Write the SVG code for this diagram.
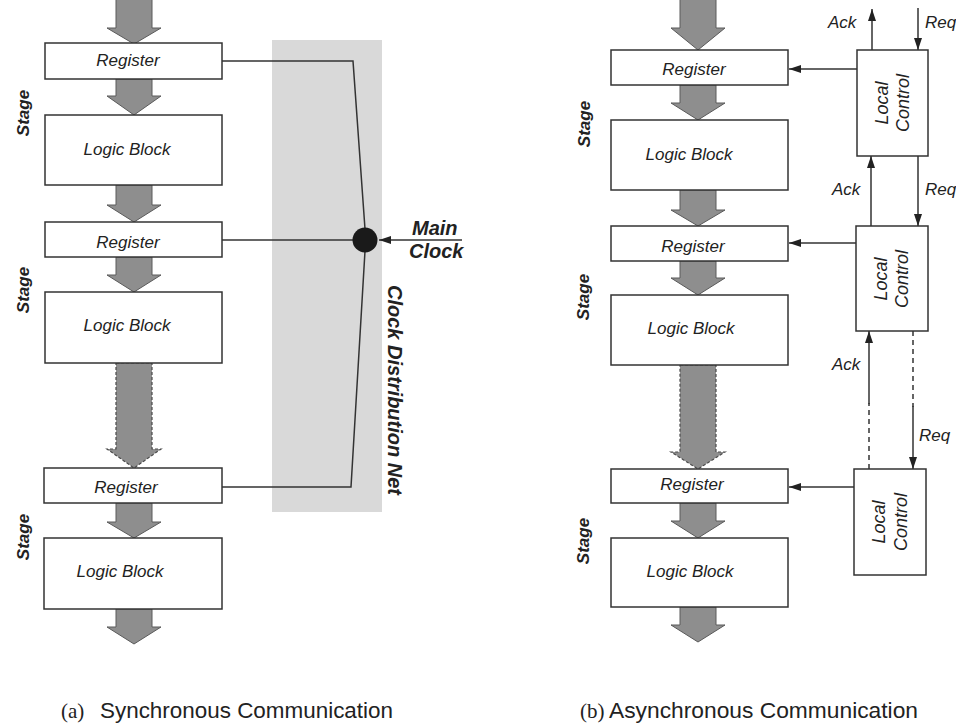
<svg xmlns="http://www.w3.org/2000/svg" width="956" height="727" viewBox="0 0 956 727">
  <style>
    .box { fill: #ffffff; stroke: #333333; stroke-width: 1.5; }
    .flow { fill: #8e8e8e; stroke: #5a5a5a; stroke-width: 1; }
    .flow-gap { fill: #8e8e8e; stroke: #4a4a4a; stroke-width: 1.2; stroke-dasharray: 3 2; }
    .wire { fill: none; stroke: #333333; stroke-width: 1.5; }
    .dash { stroke-dasharray: 5 4; }
    .lbl { font-family: "Liberation Sans", Arial, sans-serif; font-style: italic; font-size: 17px; fill: #222222; }
    .stage { font-family: "Liberation Sans", Arial, sans-serif; font-style: italic; font-weight: bold; font-size: 17px; fill: #222222; }
    .big { font-family: "Liberation Sans", Arial, sans-serif; font-style: italic; font-weight: bold; font-size: 20px; fill: #222222; }
    .lc { font-family: "Liberation Sans", Arial, sans-serif; font-style: italic; font-size: 18px; fill: #222222; }
    .cap { font-family: "Liberation Sans", Arial, sans-serif; font-size: 22px; fill: #222222; }
    .capser { font-family: "Liberation Serif", "Times New Roman", serif; font-size: 21px; fill: #222222; }
  </style>
  <defs>
    <marker id="head" viewBox="0 0 12 8" refX="12" refY="4" markerWidth="12" markerHeight="8" markerUnits="userSpaceOnUse" orient="auto">
      <path d="M0,0 L12,4 L0,8 Z" fill="#222222"/>
    </marker>
  </defs>

  <rect width="956" height="727" fill="#ffffff"/>

  <!-- (a) synchronous pipeline -->
  <g id="clock-band">
    <rect x="272" y="40" width="110" height="472" fill="#d9d9d9"/>
  </g>

  <g id="flow-a">
    <path class="flow" d="M116,-2 H152 V28 H161 L134,44 L107,28 H116 Z"/>
    <path class="flow" d="M116,79 H152 V96 H161 L134,115 L107,96 H116 Z"/>
    <path class="flow" d="M116,185 H152 V205 H161 L134,222 L107,205 H116 Z"/>
    <path class="flow" d="M116,257 H152 V275 H161 L134,292 L107,275 H116 Z"/>
    <path class="flow-gap" d="M116,363 H152 V449 H161 L134,468 L107,449 H116 Z"/>
    <path class="flow" d="M116,503 H152 V522 H161 L134,538 L107,522 H116 Z"/>
    <path class="flow" d="M116,609 H152 V627 H161 L134,644 L107,627 H116 Z"/>
  </g>

  <g id="a-register-1">
    <rect class="box" x="45" y="43" width="177" height="36"/>
    <text class="lbl" x="128" y="66" text-anchor="middle">Register</text>
  </g>
  <g id="a-logic-1">
    <rect class="box" x="45" y="115" width="177" height="70"/>
    <text class="lbl" x="127" y="155" text-anchor="middle">Logic Block</text>
  </g>
  <g id="a-register-2">
    <rect class="box" x="45" y="222" width="177" height="35"/>
    <text class="lbl" x="128" y="248" text-anchor="middle">Register</text>
  </g>
  <g id="a-logic-2">
    <rect class="box" x="45" y="292" width="177" height="71"/>
    <text class="lbl" x="127" y="331" text-anchor="middle">Logic Block</text>
  </g>
  <g id="a-register-3">
    <rect class="box" x="44" y="468" width="178" height="35"/>
    <text class="lbl" x="126" y="493" text-anchor="middle">Register</text>
  </g>
  <g id="a-logic-3">
    <rect class="box" x="44" y="538" width="178" height="71"/>
    <text class="lbl" x="120" y="577" text-anchor="middle">Logic Block</text>
  </g>

  <g id="a-stages">
    <text class="stage" transform="translate(29,113) rotate(-90)" text-anchor="middle">Stage</text>
    <text class="stage" transform="translate(29,290) rotate(-90)" text-anchor="middle">Stage</text>
    <text class="stage" transform="translate(29,537) rotate(-90)" text-anchor="middle">Stage</text>
  </g>

  <g id="clock-net">
    <polyline class="wire" points="222,61 353,61 365,229"/>
    <line class="wire" x1="222" y1="240" x2="354" y2="240"/>
    <polyline class="wire" points="365,251 351,487 222,487"/>
    <line class="wire" x1="462" y1="240" x2="379" y2="240" marker-end="url(#head)"/>
  </g>
  <g id="main-clock">
    <circle cx="365" cy="240" r="12.5" fill="#1a1a1a"/>
    <text class="big" x="412" y="235">Main</text>
    <text class="big" x="409" y="258">Clock</text>
  </g>
  <text class="big" font-size="21" transform="translate(388,285) rotate(90)">Clock Distribution Net</text>

  <text class="capser" x="61" y="718">(a)</text>
  <text class="cap" x="100" y="718" textLength="293" lengthAdjust="spacingAndGlyphs">Synchronous Communication</text>

  <!-- (b) asynchronous pipeline -->
  <g id="flow-b">
    <path class="flow" d="M680,-2 H716 V28 H725 L698,50 L671,28 H680 Z"/>
    <path class="flow" d="M680,85 H716 V103 H725 L698,120 L671,103 H680 Z"/>
    <path class="flow" d="M680,190 H716 V210 H725 L698,226 L671,210 H680 Z"/>
    <path class="flow" d="M680,261 H716 V278 H725 L698,295 L671,278 H680 Z"/>
    <path class="flow-gap" d="M680,365 H716 V452 H725 L698,469 L671,452 H680 Z"/>
    <path class="flow" d="M680,503 H716 V521 H725 L698,538 L671,521 H680 Z"/>
    <path class="flow" d="M680,607 H716 V625 H725 L698,642 L671,625 H680 Z"/>
  </g>

  <g id="b-register-1">
    <rect class="box" x="611" y="50" width="177" height="35"/>
    <text class="lbl" x="694" y="75" text-anchor="middle">Register</text>
  </g>
  <g id="b-logic-1">
    <rect class="box" x="611" y="120" width="177" height="70"/>
    <text class="lbl" x="689" y="160" text-anchor="middle">Logic Block</text>
  </g>
  <g id="b-register-2">
    <rect class="box" x="611" y="226" width="177" height="35"/>
    <text class="lbl" x="693" y="252" text-anchor="middle">Register</text>
  </g>
  <g id="b-logic-2">
    <rect class="box" x="611" y="295" width="177" height="70"/>
    <text class="lbl" x="691" y="334" text-anchor="middle">Logic Block</text>
  </g>
  <g id="b-register-3">
    <rect class="box" x="611" y="469" width="177" height="34"/>
    <text class="lbl" x="692" y="490" text-anchor="middle">Register</text>
  </g>
  <g id="b-logic-3">
    <rect class="box" x="611" y="538" width="177" height="69"/>
    <text class="lbl" x="690" y="577" text-anchor="middle">Logic Block</text>
  </g>

  <g id="b-stages">
    <text class="stage" transform="translate(590,124) rotate(-90)" text-anchor="middle">Stage</text>
    <text class="stage" transform="translate(589,297) rotate(-90)" text-anchor="middle">Stage</text>
    <text class="stage" transform="translate(589,541) rotate(-90)" text-anchor="middle">Stage</text>
  </g>

  <g id="local-control-1">
    <rect class="box" x="857" y="50" width="71" height="106"/>
    <text class="lc" transform="translate(888,103) rotate(-90)" text-anchor="middle">Local</text>
    <text class="lc" transform="translate(909,103) rotate(-90)" text-anchor="middle">Control</text>
  </g>
  <g id="local-control-2">
    <rect class="box" x="856" y="226" width="72" height="105"/>
    <text class="lc" transform="translate(887,279) rotate(-90)" text-anchor="middle">Local</text>
    <text class="lc" transform="translate(908,279) rotate(-90)" text-anchor="middle">Control</text>
  </g>
  <g id="local-control-3">
    <rect class="box" x="854" y="469" width="72" height="106"/>
    <text class="lc" transform="translate(885,522) rotate(-90)" text-anchor="middle">Local</text>
    <text class="lc" transform="translate(907,522) rotate(-90)" text-anchor="middle">Control</text>
  </g>

  <g id="handshake">
    <!-- latch enables -->
    <line class="wire" x1="857" y1="69" x2="789" y2="69" marker-end="url(#head)"/>
    <line class="wire" x1="856" y1="243" x2="789" y2="243" marker-end="url(#head)"/>
    <line class="wire" x1="854" y1="487" x2="789" y2="487" marker-end="url(#head)"/>
    <!-- top channel -->
    <line class="wire" x1="872" y1="50" x2="872" y2="9" marker-end="url(#head)"/>
    <line class="wire" x1="918" y1="8" x2="918" y2="50" marker-end="url(#head)"/>
    <!-- stage 1 to stage 2 -->
    <line class="wire" x1="871" y1="226" x2="871" y2="156" marker-end="url(#head)"/>
    <line class="wire" x1="918" y1="156" x2="918" y2="226" marker-end="url(#head)"/>
    <!-- stage 2 to stage 3, with omitted stages -->
    <line class="wire dash" x1="869" y1="469" x2="869" y2="403"/>
    <line class="wire" x1="869" y1="404" x2="869" y2="331" marker-end="url(#head)"/>
    <line class="wire dash" x1="913" y1="331" x2="913" y2="407"/>
    <line class="wire" x1="913" y1="406" x2="913" y2="469" marker-end="url(#head)"/>
  </g>
  <g id="handshake-labels">
    <text class="lbl" x="828" y="28">Ack</text>
    <text class="lbl" x="925" y="28">Req</text>
    <text class="lbl" x="832" y="195">Ack</text>
    <text class="lbl" x="925" y="195">Req</text>
    <text class="lbl" x="832" y="370">Ack</text>
    <text class="lbl" x="919" y="441">Req</text>
  </g>

  <text class="capser" x="580" y="718">(b)</text>
  <text class="cap" x="609" y="718" textLength="309" lengthAdjust="spacingAndGlyphs">Asynchronous Communication</text>
</svg>
